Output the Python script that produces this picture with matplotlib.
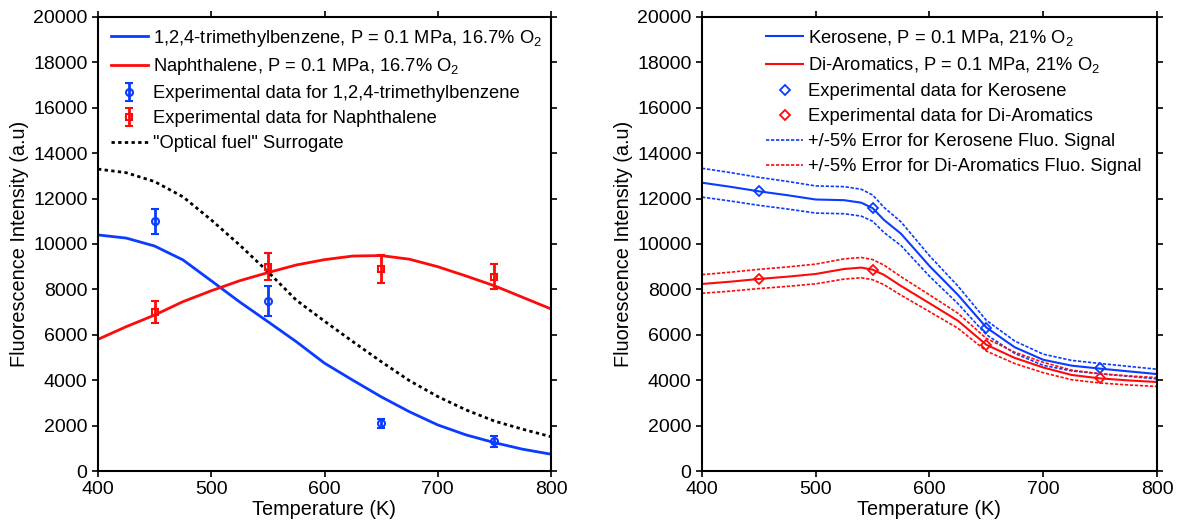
#Fluorescence intensity vs temperature - two panels

import numpy as np
import matplotlib
matplotlib.use('Agg')
import matplotlib.pyplot as plt

plt.rcParams['font.family'] = ['Liberation Sans', 'DejaVu Sans']
plt.rcParams['mathtext.fontset'] = 'custom'
plt.rcParams['mathtext.rm'] = 'Liberation Sans'
plt.rcParams['mathtext.it'] = 'Liberation Sans:italic'

#Datos panel izquierdo (curvas)

T_left = [400, 425, 450, 475, 500, 525, 550, 575, 600, 625, 650, 675, 700, 725, 750, 775, 800]
tmb_curve = [10400, 10260, 9910, 9300, 8380, 7450, 6580, 5700, 4750, 4000, 3270, 2610, 2030, 1590, 1250, 960, 740]
naph_curve = [5800, 6360, 6870, 7460, 7940, 8380, 8740, 9075, 9310, 9470, 9490, 9330, 9000, 8590, 8160, 7650, 7140]
optical_curve = [13300, 13140, 12750, 12080, 11060, 9960, 8780, 7530, 6600, 5700, 4820, 3980, 3280, 2690, 2200, 1840, 1510]

#Datos experimentales panel izquierdo

T_exp = [450, 550, 650, 750]
tmb_exp = [11000, 7500, 2100, 1300]
tmb_err = [550, 650, 200, 250]
naph_exp = [7000, 9000, 8900, 8560]
naph_err = [500, 600, 600, 560]

#Datos panel derecho

T_right = [400, 425, 450, 475, 500, 525, 540, 550, 560, 575, 600, 625, 650, 675, 700, 725, 750, 775, 800]
kero_curve = [12700, 12520, 12320, 12150, 11960, 11930, 11820, 11580, 11060, 10450, 9030, 7760, 6320, 5450, 4900, 4640, 4510, 4390, 4270]
diaro_curve = [8240, 8340, 8460, 8560, 8680, 8900, 8960, 8870, 8640, 8150, 7390, 6620, 5560, 4980, 4560, 4230, 4080, 3990, 3920]
kero_exp = [12350, 11600, 6300, 4520]
diaro_exp = [8450, 8870, 5550, 4080]
error_frac = 0.05

blue = '#0a3cff'
red = '#ff0a0a'

fig = plt.figure(figsize=(11.78, 5.24), dpi=100)
ax1 = fig.add_axes([98/1178, 53/524, 453/1178, 454/524])
ax2 = fig.add_axes([702/1178, 53/524, 455/1178, 454/524])

#Panel izquierdo

l1, = ax1.plot(T_left, tmb_curve, color=blue, lw=2, label=r'1,2,4-trimethylbenzene, P = 0.1 MPa, 16.7% O$_2$')
l2, = ax1.plot(T_left, naph_curve, color=red, lw=2, label=r'Naphthalene, P = 0.1 MPa, 16.7% O$_2$')
e1 = ax1.errorbar(T_exp, tmb_exp, yerr=tmb_err, fmt='o', color=blue, mfc='none', ms=5, mew=1.5,
                  elinewidth=2, capsize=3, capthick=1.5, label='Experimental data for 1,2,4-trimethylbenzene')
e2 = ax1.errorbar(T_exp, naph_exp, yerr=naph_err, fmt='s', color=red, mfc='none', ms=5, mew=1.5,
                  elinewidth=2, capsize=3, capthick=1.5, label='Experimental data for Naphthalene')
l3, = ax1.plot(T_left, optical_curve, color='k', lw=2, ls=(0, (1.2, 1.2)), label='"Optical fuel" Surrogate')

#Panel derecho

kero = np.array(kero_curve)
diaro = np.array(diaro_curve)
ax2.plot(T_right, kero, color=blue, lw=1.5, label=r'Kerosene, P = 0.1 MPa, 21% O$_2$')
ax2.plot(T_right, diaro, color=red, lw=1.5, label=r'Di-Aromatics, P = 0.1 MPa, 21% O$_2$')
ax2.plot(T_exp, kero_exp, 'D', color=blue, mfc='none', ms=5, mew=1.3, label='Experimental data for Kerosene')
ax2.plot(T_exp, diaro_exp, 'D', color=red, mfc='none', ms=5, mew=1.3, label='Experimental data for Di-Aromatics')
ax2.plot(T_right, kero*(1+error_frac), color=blue, lw=1.2, ls=(0, (2, 1)), label='+/-5% Error for Kerosene Fluo. Signal')
ax2.plot(T_right, kero*(1-error_frac), color=blue, lw=1.2, ls=(0, (2, 1)))
ax2.plot(T_right, diaro*(1+error_frac), color=red, lw=1.2, ls=(0, (2, 1)), label='+/-5% Error for Di-Aromatics Fluo. Signal')
ax2.plot(T_right, diaro*(1-error_frac), color=red, lw=1.2, ls=(0, (2, 1)))

for ax in (ax1, ax2):
    ax.set_xlim(400, 800)
    ax.set_ylim(0, 20000)
    ax.set_xticks([400, 500, 600, 700, 800])
    ax.set_yticks(range(0, 20001, 2000))
    ax.tick_params(direction='out', length=4, width=1.2, labelsize=14, top=True, right=True)
    for s in ax.spines.values():
        s.set_linewidth(1.5)
    ax.set_xlabel('Temperature (K)', fontsize=14.3, labelpad=1)
    ax.set_ylabel('Fluorescence Intensity (a.u)', fontsize=14.3, labelpad=3)

ax1.legend(handles=[l1, l2, e1, e2, l3], loc='upper left', frameon=False, fontsize=13.2,
           handlelength=2.0, handletextpad=0.3, labelspacing=0.43, borderaxespad=0.3,
           bbox_to_anchor=(0.0, 1.005))
ax2.legend(loc='upper right', frameon=False, fontsize=13.2, handlelength=2.0, handletextpad=0.3,
           labelspacing=0.43, borderaxespad=0.3, bbox_to_anchor=(0.995, 1.005))

plt.savefig('out.png', dpi=100)
